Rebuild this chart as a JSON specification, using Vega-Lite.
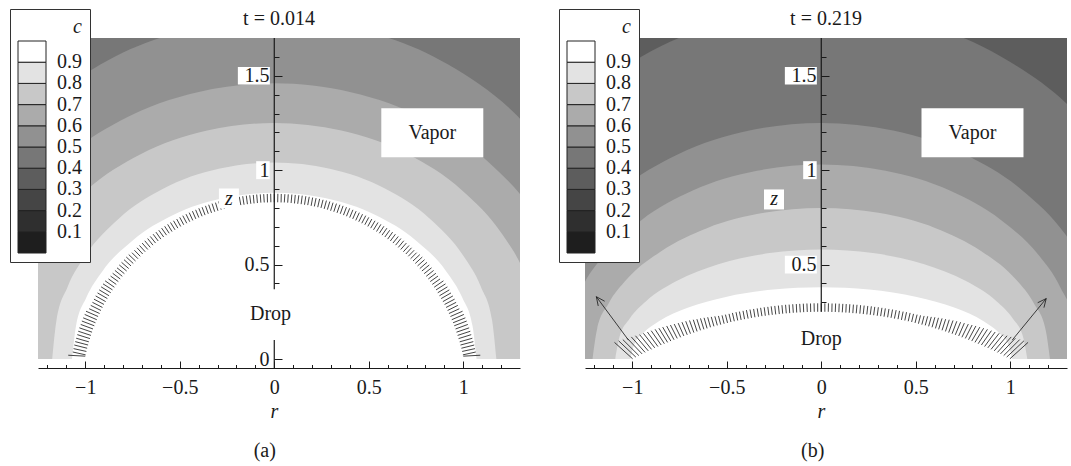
{
  "$schema": "https://vega.github.io/schema/vega-lite/v6.json",
  "background": "white",
  "padding": {"left": 9, "top": 8, "right": 4, "bottom": 4},
  "config": {
    "font": "Liberation Serif",
    "view": {"stroke": null},
    "axis": {"labelFont": "Liberation Serif", "labelFontSize": 20, "labelColor": "#1a1a1a", "domainColor": "#1a1a1a", "tickColor": "#1a1a1a", "grid": false, "titleFont": "Liberation Serif", "titleFontSize": 20, "titleFontStyle": "italic", "titleFontWeight": "normal", "titleColor": "#1a1a1a"},
    "title": {"font": "Liberation Serif", "fontSize": 20, "fontWeight": "normal", "color": "#1a1a1a"}
  },
  "datasets": {
    "bandsA": [
      {"band": "b0", "c": 0.45, "r": -1.4, "z": 1.8}, {"band": "b0", "c": 0.45, "r": 1.4, "z": 1.8},
      {"band": "b1", "c": 0.55, "r": -1.84, "z": 0}, {"band": "b1", "c": 0.55, "r": -1.803, "z": 0.358}, {"band": "b1", "c": 0.55, "r": -1.711, "z": 0.662}, {"band": "b1", "c": 0.55, "r": -1.564, "z": 0.949}, {"band": "b1", "c": 0.55, "r": -1.288, "z": 1.285}, {"band": "b1", "c": 0.55, "r": -0.92, "z": 1.559}, {"band": "b1", "c": 0.55, "r": -0.46, "z": 1.742}, {"band": "b1", "c": 0.55, "r": 0, "z": 1.8}, {"band": "b1", "c": 0.55, "r": 0.46, "z": 1.742}, {"band": "b1", "c": 0.55, "r": 0.92, "z": 1.559}, {"band": "b1", "c": 0.55, "r": 1.288, "z": 1.285}, {"band": "b1", "c": 0.55, "r": 1.564, "z": 0.949}, {"band": "b1", "c": 0.55, "r": 1.711, "z": 0.662}, {"band": "b1", "c": 0.55, "r": 1.803, "z": 0.358}, {"band": "b1", "c": 0.55, "r": 1.84, "z": 0},
      {"band": "b2", "c": 0.65, "r": -1.62, "z": 0}, {"band": "b2", "c": 0.65, "r": -1.588, "z": 0.291}, {"band": "b2", "c": 0.65, "r": -1.507, "z": 0.537}, {"band": "b2", "c": 0.65, "r": -1.377, "z": 0.769}, {"band": "b2", "c": 0.65, "r": -1.134, "z": 1.042}, {"band": "b2", "c": 0.65, "r": -0.81, "z": 1.264}, {"band": "b2", "c": 0.65, "r": -0.405, "z": 1.413}, {"band": "b2", "c": 0.65, "r": 0, "z": 1.46}, {"band": "b2", "c": 0.65, "r": 0.405, "z": 1.413}, {"band": "b2", "c": 0.65, "r": 0.81, "z": 1.264}, {"band": "b2", "c": 0.65, "r": 1.134, "z": 1.042}, {"band": "b2", "c": 0.65, "r": 1.377, "z": 0.769}, {"band": "b2", "c": 0.65, "r": 1.507, "z": 0.537}, {"band": "b2", "c": 0.65, "r": 1.588, "z": 0.291}, {"band": "b2", "c": 0.65, "r": 1.62, "z": 0},
      {"band": "b3", "c": 0.75, "r": -1.42, "z": 0}, {"band": "b3", "c": 0.75, "r": -1.392, "z": 0.249}, {"band": "b3", "c": 0.75, "r": -1.321, "z": 0.46}, {"band": "b3", "c": 0.75, "r": -1.207, "z": 0.659}, {"band": "b3", "c": 0.75, "r": -0.994, "z": 0.893}, {"band": "b3", "c": 0.75, "r": -0.71, "z": 1.083}, {"band": "b3", "c": 0.75, "r": -0.355, "z": 1.21}, {"band": "b3", "c": 0.75, "r": 0, "z": 1.25}, {"band": "b3", "c": 0.75, "r": 0.355, "z": 1.21}, {"band": "b3", "c": 0.75, "r": 0.71, "z": 1.083}, {"band": "b3", "c": 0.75, "r": 0.994, "z": 0.893}, {"band": "b3", "c": 0.75, "r": 1.207, "z": 0.659}, {"band": "b3", "c": 0.75, "r": 1.321, "z": 0.46}, {"band": "b3", "c": 0.75, "r": 1.392, "z": 0.249}, {"band": "b3", "c": 0.75, "r": 1.42, "z": 0},
      {"band": "b4", "c": 0.85, "r": -1.175, "z": 0}, {"band": "b4", "c": 0.85, "r": -1.152, "z": 0.207}, {"band": "b4", "c": 0.85, "r": -1.093, "z": 0.383}, {"band": "b4", "c": 0.85, "r": -0.999, "z": 0.548}, {"band": "b4", "c": 0.85, "r": -0.823, "z": 0.743}, {"band": "b4", "c": 0.85, "r": -0.588, "z": 0.901}, {"band": "b4", "c": 0.85, "r": -0.294, "z": 1.007}, {"band": "b4", "c": 0.85, "r": 0, "z": 1.04}, {"band": "b4", "c": 0.85, "r": 0.294, "z": 1.007}, {"band": "b4", "c": 0.85, "r": 0.588, "z": 0.901}, {"band": "b4", "c": 0.85, "r": 0.823, "z": 0.743}, {"band": "b4", "c": 0.85, "r": 0.999, "z": 0.548}, {"band": "b4", "c": 0.85, "r": 1.093, "z": 0.383}, {"band": "b4", "c": 0.85, "r": 1.152, "z": 0.207}, {"band": "b4", "c": 0.85, "r": 1.175, "z": 0},
      {"band": "b5", "c": 0.95, "r": -1.07, "z": 0}, {"band": "b5", "c": 0.95, "r": -1.049, "z": 0.175}, {"band": "b5", "c": 0.95, "r": -0.995, "z": 0.324}, {"band": "b5", "c": 0.95, "r": -0.91, "z": 0.464}, {"band": "b5", "c": 0.95, "r": -0.749, "z": 0.628}, {"band": "b5", "c": 0.95, "r": -0.535, "z": 0.762}, {"band": "b5", "c": 0.95, "r": -0.268, "z": 0.852}, {"band": "b5", "c": 0.95, "r": 0, "z": 0.88}, {"band": "b5", "c": 0.95, "r": 0.268, "z": 0.852}, {"band": "b5", "c": 0.95, "r": 0.535, "z": 0.762}, {"band": "b5", "c": 0.95, "r": 0.749, "z": 0.628}, {"band": "b5", "c": 0.95, "r": 0.91, "z": 0.464}, {"band": "b5", "c": 0.95, "r": 0.995, "z": 0.324}, {"band": "b5", "c": 0.95, "r": 1.049, "z": 0.175}, {"band": "b5", "c": 0.95, "r": 1.07, "z": 0}
    ],
    "bandsB": [
      {"band": "b0", "c": 0.35, "r": -1.4, "z": 1.8}, {"band": "b0", "c": 0.35, "r": 1.4, "z": 1.8},
      {"band": "b1", "c": 0.45, "r": -1.9, "z": 0}, {"band": "b1", "c": 0.45, "r": -1.862, "z": 0.368}, {"band": "b1", "c": 0.45, "r": -1.767, "z": 0.681}, {"band": "b1", "c": 0.45, "r": -1.615, "z": 0.975}, {"band": "b1", "c": 0.45, "r": -1.33, "z": 1.321}, {"band": "b1", "c": 0.45, "r": -0.95, "z": 1.602}, {"band": "b1", "c": 0.45, "r": -0.475, "z": 1.791}, {"band": "b1", "c": 0.45, "r": 0, "z": 1.85}, {"band": "b1", "c": 0.45, "r": 0.475, "z": 1.791}, {"band": "b1", "c": 0.45, "r": 0.95, "z": 1.602}, {"band": "b1", "c": 0.45, "r": 1.33, "z": 1.321}, {"band": "b1", "c": 0.45, "r": 1.615, "z": 0.975}, {"band": "b1", "c": 0.45, "r": 1.767, "z": 0.681}, {"band": "b1", "c": 0.45, "r": 1.862, "z": 0.368}, {"band": "b1", "c": 0.45, "r": 1.9, "z": 0},
      {"band": "b2", "c": 0.55, "r": -1.52, "z": 0}, {"band": "b2", "c": 0.55, "r": -1.49, "z": 0.249}, {"band": "b2", "c": 0.55, "r": -1.414, "z": 0.46}, {"band": "b2", "c": 0.55, "r": -1.292, "z": 0.659}, {"band": "b2", "c": 0.55, "r": -1.064, "z": 0.893}, {"band": "b2", "c": 0.55, "r": -0.76, "z": 1.083}, {"band": "b2", "c": 0.55, "r": -0.38, "z": 1.21}, {"band": "b2", "c": 0.55, "r": 0, "z": 1.25}, {"band": "b2", "c": 0.55, "r": 0.38, "z": 1.21}, {"band": "b2", "c": 0.55, "r": 0.76, "z": 1.083}, {"band": "b2", "c": 0.55, "r": 1.064, "z": 0.893}, {"band": "b2", "c": 0.55, "r": 1.292, "z": 0.659}, {"band": "b2", "c": 0.55, "r": 1.414, "z": 0.46}, {"band": "b2", "c": 0.55, "r": 1.49, "z": 0.249}, {"band": "b2", "c": 0.55, "r": 1.52, "z": 0},
      {"band": "b3", "c": 0.65, "r": -1.36, "z": 0}, {"band": "b3", "c": 0.65, "r": -1.333, "z": 0.205}, {"band": "b3", "c": 0.65, "r": -1.265, "z": 0.379}, {"band": "b3", "c": 0.65, "r": -1.156, "z": 0.543}, {"band": "b3", "c": 0.65, "r": -0.952, "z": 0.735}, {"band": "b3", "c": 0.65, "r": -0.68, "z": 0.892}, {"band": "b3", "c": 0.65, "r": -0.34, "z": 0.997}, {"band": "b3", "c": 0.65, "r": 0, "z": 1.03}, {"band": "b3", "c": 0.65, "r": 0.34, "z": 0.997}, {"band": "b3", "c": 0.65, "r": 0.68, "z": 0.892}, {"band": "b3", "c": 0.65, "r": 0.952, "z": 0.735}, {"band": "b3", "c": 0.65, "r": 1.156, "z": 0.543}, {"band": "b3", "c": 0.65, "r": 1.265, "z": 0.379}, {"band": "b3", "c": 0.65, "r": 1.333, "z": 0.205}, {"band": "b3", "c": 0.65, "r": 1.36, "z": 0},
      {"band": "b4", "c": 0.75, "r": -1.21, "z": 0}, {"band": "b4", "c": 0.75, "r": -1.186, "z": 0.159}, {"band": "b4", "c": 0.75, "r": -1.125, "z": 0.294}, {"band": "b4", "c": 0.75, "r": -1.029, "z": 0.422}, {"band": "b4", "c": 0.75, "r": -0.847, "z": 0.571}, {"band": "b4", "c": 0.75, "r": -0.605, "z": 0.693}, {"band": "b4", "c": 0.75, "r": -0.303, "z": 0.774}, {"band": "b4", "c": 0.75, "r": 0, "z": 0.8}, {"band": "b4", "c": 0.75, "r": 0.303, "z": 0.774}, {"band": "b4", "c": 0.75, "r": 0.605, "z": 0.693}, {"band": "b4", "c": 0.75, "r": 0.847, "z": 0.571}, {"band": "b4", "c": 0.75, "r": 1.029, "z": 0.422}, {"band": "b4", "c": 0.75, "r": 1.125, "z": 0.294}, {"band": "b4", "c": 0.75, "r": 1.186, "z": 0.159}, {"band": "b4", "c": 0.75, "r": 1.21, "z": 0},
      {"band": "b5", "c": 0.85, "r": -1.09, "z": 0}, {"band": "b5", "c": 0.85, "r": -1.068, "z": 0.115}, {"band": "b5", "c": 0.85, "r": -1.014, "z": 0.213}, {"band": "b5", "c": 0.85, "r": -0.927, "z": 0.306}, {"band": "b5", "c": 0.85, "r": -0.763, "z": 0.414}, {"band": "b5", "c": 0.85, "r": -0.545, "z": 0.502}, {"band": "b5", "c": 0.85, "r": -0.273, "z": 0.561}, {"band": "b5", "c": 0.85, "r": 0, "z": 0.58}, {"band": "b5", "c": 0.85, "r": 0.273, "z": 0.561}, {"band": "b5", "c": 0.85, "r": 0.545, "z": 0.502}, {"band": "b5", "c": 0.85, "r": 0.763, "z": 0.414}, {"band": "b5", "c": 0.85, "r": 0.927, "z": 0.306}, {"band": "b5", "c": 0.85, "r": 1.014, "z": 0.213}, {"band": "b5", "c": 0.85, "r": 1.068, "z": 0.115}, {"band": "b5", "c": 0.85, "r": 1.09, "z": 0},
      {"band": "b6", "c": 0.95, "r": -1.01, "z": 0}, {"band": "b6", "c": 0.95, "r": -0.99, "z": 0.076}, {"band": "b6", "c": 0.95, "r": -0.939, "z": 0.14}, {"band": "b6", "c": 0.95, "r": -0.859, "z": 0.2}, {"band": "b6", "c": 0.95, "r": -0.707, "z": 0.271}, {"band": "b6", "c": 0.95, "r": -0.505, "z": 0.329}, {"band": "b6", "c": 0.95, "r": -0.253, "z": 0.368}, {"band": "b6", "c": 0.95, "r": 0, "z": 0.38}, {"band": "b6", "c": 0.95, "r": 0.253, "z": 0.368}, {"band": "b6", "c": 0.95, "r": 0.505, "z": 0.329}, {"band": "b6", "c": 0.95, "r": 0.707, "z": 0.271}, {"band": "b6", "c": 0.95, "r": 0.859, "z": 0.2}, {"band": "b6", "c": 0.95, "r": 0.939, "z": 0.14}, {"band": "b6", "c": 0.95, "r": 0.99, "z": 0.076}, {"band": "b6", "c": 0.95, "r": 1.01, "z": 0}
    ],
    "arrowsA": [
      {"r": -1.0, "z": 0.015, "r2": -1.09, "z2": 0.02},
      {"r": -0.998, "z": 0.022, "r2": -1.066, "z2": 0.037}, {"r": -0.994, "z": 0.040, "r2": -1.062, "z2": 0.055}, {"r": -0.990, "z": 0.057, "r2": -1.058, "z2": 0.074}, {"r": -0.985, "z": 0.074, "r2": -1.053, "z2": 0.092}, {"r": -0.981, "z": 0.091, "r2": -1.048, "z2": 0.110}, {"r": -0.975, "z": 0.108, "r2": -1.042, "z2": 0.129}, {"r": -0.970, "z": 0.125, "r2": -1.037, "z2": 0.147}, {"r": -0.964, "z": 0.142, "r2": -1.031, "z2": 0.165}, {"r": -0.959, "z": 0.159, "r2": -1.024, "z2": 0.183}, {"r": -0.952, "z": 0.176, "r2": -1.018, "z2": 0.201}, {"r": -0.946, "z": 0.192, "r2": -1.011, "z2": 0.218}, {"r": -0.939, "z": 0.208, "r2": -1.003, "z2": 0.236}, {"r": -0.932, "z": 0.225, "r2": -0.996, "z2": 0.253},
      {"r": -0.924, "z": 0.241, "r2": -0.979, "z2": 0.266}, {"r": -0.917, "z": 0.257, "r2": -0.971, "z2": 0.284}, {"r": -0.909, "z": 0.273, "r2": -0.962, "z2": 0.300}, {"r": -0.901, "z": 0.289, "r2": -0.954, "z2": 0.317}, {"r": -0.892, "z": 0.304, "r2": -0.945, "z2": 0.334}, {"r": -0.883, "z": 0.320, "r2": -0.935, "z2": 0.350}, {"r": -0.874, "z": 0.335, "r2": -0.926, "z2": 0.366}, {"r": -0.865, "z": 0.351, "r2": -0.916, "z2": 0.382}, {"r": -0.856, "z": 0.366, "r2": -0.906, "z2": 0.398}, {"r": -0.846, "z": 0.380, "r2": -0.895, "z2": 0.414},
      {"r": -0.836, "z": 0.395, "r2": -0.877, "z2": 0.424}, {"r": -0.825, "z": 0.410, "r2": -0.866, "z2": 0.439}, {"r": -0.815, "z": 0.424, "r2": -0.855, "z2": 0.454}, {"r": -0.804, "z": 0.438, "r2": -0.843, "z2": 0.469}, {"r": -0.793, "z": 0.452, "r2": -0.832, "z2": 0.483}, {"r": -0.781, "z": 0.466, "r2": -0.820, "z2": 0.498}, {"r": -0.770, "z": 0.479, "r2": -0.808, "z2": 0.512}, {"r": -0.758, "z": 0.493, "r2": -0.795, "z2": 0.526}, {"r": -0.746, "z": 0.506, "r2": -0.783, "z2": 0.540}, {"r": -0.734, "z": 0.519, "r2": -0.770, "z2": 0.553},
      {"r": -0.721, "z": 0.531, "r2": -0.753, "z2": 0.563}, {"r": -0.709, "z": 0.544, "r2": -0.740, "z2": 0.576}, {"r": -0.696, "z": 0.556, "r2": -0.726, "z2": 0.589}, {"r": -0.683, "z": 0.568, "r2": -0.713, "z2": 0.601}, {"r": -0.669, "z": 0.580, "r2": -0.699, "z2": 0.614}, {"r": -0.656, "z": 0.591, "r2": -0.685, "z2": 0.626}, {"r": -0.642, "z": 0.603, "r2": -0.670, "z2": 0.638}, {"r": -0.628, "z": 0.614, "r2": -0.656, "z2": 0.649}, {"r": -0.614, "z": 0.625, "r2": -0.641, "z2": 0.661}, {"r": -0.600, "z": 0.635, "r2": -0.626, "z2": 0.672},
      {"r": -0.585, "z": 0.646, "r2": -0.611, "z2": 0.682}, {"r": -0.570, "z": 0.656, "r2": -0.596, "z2": 0.693}, {"r": -0.556, "z": 0.666, "r2": -0.580, "z2": 0.703}, {"r": -0.541, "z": 0.675, "r2": -0.564, "z2": 0.713}, {"r": -0.525, "z": 0.684, "r2": -0.549, "z2": 0.723}, {"r": -0.510, "z": 0.693, "r2": -0.533, "z2": 0.732}, {"r": -0.495, "z": 0.702, "r2": -0.516, "z2": 0.741}, {"r": -0.479, "z": 0.711, "r2": -0.500, "z2": 0.750}, {"r": -0.463, "z": 0.719, "r2": -0.484, "z2": 0.759}, {"r": -0.447, "z": 0.727, "r2": -0.467, "z2": 0.767},
      {"r": -0.431, "z": 0.734, "r2": -0.450, "z2": 0.775}, {"r": -0.415, "z": 0.742, "r2": -0.433, "z2": 0.783}, {"r": -0.399, "z": 0.749, "r2": -0.416, "z2": 0.790}, {"r": -0.382, "z": 0.756, "r2": -0.399, "z2": 0.798}, {"r": -0.366, "z": 0.762, "r2": -0.382, "z2": 0.804}, {"r": -0.349, "z": 0.769, "r2": -0.364, "z2": 0.811}, {"r": -0.332, "z": 0.774, "r2": -0.347, "z2": 0.817}, {"r": -0.315, "z": 0.780, "r2": -0.329, "z2": 0.823}, {"r": -0.298, "z": 0.785, "r2": -0.311, "z2": 0.828}, {"r": -0.281, "z": 0.791, "r2": -0.294, "z2": 0.834},
      {"r": -0.264, "z": 0.795, "r2": -0.276, "z2": 0.839}, {"r": -0.247, "z": 0.800, "r2": -0.258, "z2": 0.843}, {"r": -0.230, "z": 0.804, "r2": -0.240, "z2": 0.848}, {"r": -0.212, "z": 0.808, "r2": -0.221, "z2": 0.852}, {"r": -0.195, "z": 0.811, "r2": -0.203, "z2": 0.855}, {"r": -0.177, "z": 0.815, "r2": -0.185, "z2": 0.859}, {"r": -0.160, "z": 0.817, "r2": -0.167, "z2": 0.862}, {"r": -0.142, "z": 0.820, "r2": -0.148, "z2": 0.865}, {"r": -0.124, "z": 0.822, "r2": -0.130, "z2": 0.867}, {"r": -0.107, "z": 0.824, "r2": -0.111, "z2": 0.869},
      {"r": -0.089, "z": 0.826, "r2": -0.093, "z2": 0.871}, {"r": -0.071, "z": 0.828, "r2": -0.074, "z2": 0.872}, {"r": -0.053, "z": 0.829, "r2": -0.056, "z2": 0.873}, {"r": -0.036, "z": 0.829, "r2": -0.037, "z2": 0.874}, {"r": -0.018, "z": 0.830, "r2": -0.019, "z2": 0.875},
      {"r": 0, "z": 0.830, "r2": 0, "z2": 0.875},
      {"r": 0.018, "z": 0.830, "r2": 0.019, "z2": 0.875}, {"r": 0.036, "z": 0.829, "r2": 0.037, "z2": 0.874}, {"r": 0.053, "z": 0.829, "r2": 0.056, "z2": 0.873}, {"r": 0.071, "z": 0.828, "r2": 0.074, "z2": 0.872}, {"r": 0.089, "z": 0.826, "r2": 0.093, "z2": 0.871},
      {"r": 0.107, "z": 0.824, "r2": 0.111, "z2": 0.869}, {"r": 0.124, "z": 0.822, "r2": 0.130, "z2": 0.867}, {"r": 0.142, "z": 0.820, "r2": 0.148, "z2": 0.865}, {"r": 0.160, "z": 0.817, "r2": 0.167, "z2": 0.862}, {"r": 0.177, "z": 0.815, "r2": 0.185, "z2": 0.859}, {"r": 0.195, "z": 0.811, "r2": 0.203, "z2": 0.855}, {"r": 0.212, "z": 0.808, "r2": 0.221, "z2": 0.852}, {"r": 0.230, "z": 0.804, "r2": 0.240, "z2": 0.848}, {"r": 0.247, "z": 0.800, "r2": 0.258, "z2": 0.843}, {"r": 0.264, "z": 0.795, "r2": 0.276, "z2": 0.839},
      {"r": 0.281, "z": 0.791, "r2": 0.294, "z2": 0.834}, {"r": 0.298, "z": 0.785, "r2": 0.311, "z2": 0.828}, {"r": 0.315, "z": 0.780, "r2": 0.329, "z2": 0.823}, {"r": 0.332, "z": 0.774, "r2": 0.347, "z2": 0.817}, {"r": 0.349, "z": 0.769, "r2": 0.364, "z2": 0.811}, {"r": 0.366, "z": 0.762, "r2": 0.382, "z2": 0.804}, {"r": 0.382, "z": 0.756, "r2": 0.399, "z2": 0.798}, {"r": 0.399, "z": 0.749, "r2": 0.416, "z2": 0.790}, {"r": 0.415, "z": 0.742, "r2": 0.433, "z2": 0.783}, {"r": 0.431, "z": 0.734, "r2": 0.450, "z2": 0.775},
      {"r": 0.447, "z": 0.727, "r2": 0.467, "z2": 0.767}, {"r": 0.463, "z": 0.719, "r2": 0.484, "z2": 0.759}, {"r": 0.479, "z": 0.711, "r2": 0.500, "z2": 0.750}, {"r": 0.495, "z": 0.702, "r2": 0.516, "z2": 0.741}, {"r": 0.510, "z": 0.693, "r2": 0.533, "z2": 0.732}, {"r": 0.525, "z": 0.684, "r2": 0.549, "z2": 0.723}, {"r": 0.541, "z": 0.675, "r2": 0.564, "z2": 0.713}, {"r": 0.556, "z": 0.666, "r2": 0.580, "z2": 0.703}, {"r": 0.570, "z": 0.656, "r2": 0.596, "z2": 0.693}, {"r": 0.585, "z": 0.646, "r2": 0.611, "z2": 0.682},
      {"r": 0.600, "z": 0.635, "r2": 0.626, "z2": 0.672}, {"r": 0.614, "z": 0.625, "r2": 0.641, "z2": 0.661}, {"r": 0.628, "z": 0.614, "r2": 0.656, "z2": 0.649}, {"r": 0.642, "z": 0.603, "r2": 0.670, "z2": 0.638}, {"r": 0.656, "z": 0.591, "r2": 0.685, "z2": 0.626}, {"r": 0.669, "z": 0.580, "r2": 0.699, "z2": 0.614}, {"r": 0.683, "z": 0.568, "r2": 0.713, "z2": 0.601}, {"r": 0.696, "z": 0.556, "r2": 0.726, "z2": 0.589}, {"r": 0.709, "z": 0.544, "r2": 0.740, "z2": 0.576}, {"r": 0.721, "z": 0.531, "r2": 0.753, "z2": 0.563},
      {"r": 0.734, "z": 0.519, "r2": 0.770, "z2": 0.553}, {"r": 0.746, "z": 0.506, "r2": 0.783, "z2": 0.540}, {"r": 0.758, "z": 0.493, "r2": 0.795, "z2": 0.526}, {"r": 0.770, "z": 0.479, "r2": 0.808, "z2": 0.512}, {"r": 0.781, "z": 0.466, "r2": 0.820, "z2": 0.498}, {"r": 0.793, "z": 0.452, "r2": 0.832, "z2": 0.483}, {"r": 0.804, "z": 0.438, "r2": 0.843, "z2": 0.469}, {"r": 0.815, "z": 0.424, "r2": 0.855, "z2": 0.454}, {"r": 0.825, "z": 0.410, "r2": 0.866, "z2": 0.439}, {"r": 0.836, "z": 0.395, "r2": 0.877, "z2": 0.424},
      {"r": 0.846, "z": 0.380, "r2": 0.895, "z2": 0.414}, {"r": 0.856, "z": 0.366, "r2": 0.906, "z2": 0.398}, {"r": 0.865, "z": 0.351, "r2": 0.916, "z2": 0.382}, {"r": 0.874, "z": 0.335, "r2": 0.926, "z2": 0.366}, {"r": 0.883, "z": 0.320, "r2": 0.935, "z2": 0.350}, {"r": 0.892, "z": 0.304, "r2": 0.945, "z2": 0.334}, {"r": 0.901, "z": 0.289, "r2": 0.954, "z2": 0.317}, {"r": 0.909, "z": 0.273, "r2": 0.962, "z2": 0.300}, {"r": 0.917, "z": 0.257, "r2": 0.971, "z2": 0.284}, {"r": 0.924, "z": 0.241, "r2": 0.979, "z2": 0.266},
      {"r": 0.932, "z": 0.225, "r2": 0.996, "z2": 0.253}, {"r": 0.939, "z": 0.208, "r2": 1.003, "z2": 0.236}, {"r": 0.946, "z": 0.192, "r2": 1.011, "z2": 0.218}, {"r": 0.952, "z": 0.176, "r2": 1.018, "z2": 0.201}, {"r": 0.959, "z": 0.159, "r2": 1.024, "z2": 0.183}, {"r": 0.964, "z": 0.142, "r2": 1.031, "z2": 0.165}, {"r": 0.970, "z": 0.125, "r2": 1.037, "z2": 0.147}, {"r": 0.975, "z": 0.108, "r2": 1.042, "z2": 0.129}, {"r": 0.981, "z": 0.091, "r2": 1.048, "z2": 0.110}, {"r": 0.985, "z": 0.074, "r2": 1.053, "z2": 0.092},
      {"r": 0.990, "z": 0.057, "r2": 1.058, "z2": 0.074}, {"r": 0.994, "z": 0.040, "r2": 1.062, "z2": 0.055}, {"r": 0.998, "z": 0.022, "r2": 1.066, "z2": 0.037},
      {"r": 1.0, "z": 0.015, "r2": 1.09, "z2": 0.02}
    ],
    "arrowsB": [
      {"r": -1.02, "z": 0.10, "r2": -1.19, "z2": 0.33}, {"r": -1.19, "z": 0.33, "r2": -1.146, "z2": 0.306}, {"r": -1.19, "z": 0.33, "r2": -1.18, "z2": 0.281},
      {"r": -0.998, "z": 0.001, "r2": -1.094, "z2": 0.088}, {"r": -0.981, "z": 0.010, "r2": -1.072, "z2": 0.096}, {"r": -0.965, "z": 0.018, "r2": -1.050, "z2": 0.103}, {"r": -0.948, "z": 0.027, "r2": -1.027, "z2": 0.110}, {"r": -0.932, "z": 0.035, "r2": -1.005, "z2": 0.117}, {"r": -0.915, "z": 0.043, "r2": -0.983, "z2": 0.123}, {"r": -0.898, "z": 0.051, "r2": -0.961, "z2": 0.129}, {"r": -0.881, "z": 0.059, "r2": -0.941, "z2": 0.136}, {"r": -0.864, "z": 0.066, "r2": -0.920, "z2": 0.143}, {"r": -0.847, "z": 0.074, "r2": -0.900, "z2": 0.150}, {"r": -0.830, "z": 0.081, "r2": -0.879, "z2": 0.157}, {"r": -0.813, "z": 0.088, "r2": -0.859, "z2": 0.163}, {"r": -0.796, "z": 0.095, "r2": -0.839, "z2": 0.169}, {"r": -0.779, "z": 0.102, "r2": -0.818, "z2": 0.175}, {"r": -0.762, "z": 0.109, "r2": -0.798, "z2": 0.180}, {"r": -0.744, "z": 0.115, "r2": -0.778, "z2": 0.185}, {"r": -0.727, "z": 0.122, "r2": -0.757, "z2": 0.190}, {"r": -0.709, "z": 0.128, "r2": -0.737, "z2": 0.195}, {"r": -0.692, "z": 0.134, "r2": -0.717, "z2": 0.200}, {"r": -0.674, "z": 0.140, "r2": -0.697, "z2": 0.204}, {"r": -0.657, "z": 0.146, "r2": -0.677, "z2": 0.208}, {"r": -0.639, "z": 0.152, "r2": -0.658, "z2": 0.211}, {"r": -0.621, "z": 0.157, "r2": -0.639, "z2": 0.215}, {"r": -0.604, "z": 0.162, "r2": -0.620, "z2": 0.218}, {"r": -0.586, "z": 0.168, "r2": -0.601, "z2": 0.221}, {"r": -0.568, "z": 0.173, "r2": -0.582, "z2": 0.223}, {"r": -0.550, "z": 0.178, "r2": -0.563, "z2": 0.226}, {"r": -0.532, "z": 0.182, "r2": -0.544, "z2": 0.228}, {"r": -0.514, "z": 0.187, "r2": -0.525, "z2": 0.231}, {"r": -0.496, "z": 0.191, "r2": -0.507, "z2": 0.235}, {"r": -0.478, "z": 0.196, "r2": -0.488, "z2": 0.239}, {"r": -0.460, "z": 0.200, "r2": -0.470, "z2": 0.244}, {"r": -0.442, "z": 0.204, "r2": -0.451, "z2": 0.248}, {"r": -0.424, "z": 0.207, "r2": -0.433, "z2": 0.251}, {"r": -0.406, "z": 0.211, "r2": -0.414, "z2": 0.255}, {"r": -0.387, "z": 0.214, "r2": -0.396, "z2": 0.259}, {"r": -0.369, "z": 0.218, "r2": -0.377, "z2": 0.262}, {"r": -0.351, "z": 0.221, "r2": -0.358, "z2": 0.265}, {"r": -0.332, "z": 0.224, "r2": -0.339, "z2": 0.268}, {"r": -0.314, "z": 0.227, "r2": -0.321, "z2": 0.271}, {"r": -0.296, "z": 0.229, "r2": -0.302, "z2": 0.274}, {"r": -0.277, "z": 0.232, "r2": -0.283, "z2": 0.276}, {"r": -0.259, "z": 0.234, "r2": -0.265, "z2": 0.279}, {"r": -0.241, "z": 0.236, "r2": -0.246, "z2": 0.281}, {"r": -0.222, "z": 0.238, "r2": -0.227, "z2": 0.283}, {"r": -0.204, "z": 0.240, "r2": -0.208, "z2": 0.285}, {"r": -0.185, "z": 0.242, "r2": -0.189, "z2": 0.287}, {"r": -0.167, "z": 0.243, "r2": -0.170, "z2": 0.288}, {"r": -0.148, "z": 0.245, "r2": -0.151, "z2": 0.290}, {"r": -0.130, "z": 0.246, "r2": -0.132, "z2": 0.291}, {"r": -0.111, "z": 0.247, "r2": -0.114, "z2": 0.292}, {"r": -0.093, "z": 0.248, "r2": -0.095, "z2": 0.293}, {"r": -0.074, "z": 0.249, "r2": -0.076, "z2": 0.294}, {"r": -0.056, "z": 0.249, "r2": -0.057, "z2": 0.294}, {"r": -0.037, "z": 0.250, "r2": -0.038, "z2": 0.295}, {"r": -0.019, "z": 0.250, "r2": -0.019, "z2": 0.295},
      {"r": 0, "z": 0.250, "r2": 0, "z2": 0.295},
      {"r": 0.019, "z": 0.250, "r2": 0.019, "z2": 0.295}, {"r": 0.037, "z": 0.250, "r2": 0.038, "z2": 0.295}, {"r": 0.056, "z": 0.249, "r2": 0.057, "z2": 0.294}, {"r": 0.074, "z": 0.249, "r2": 0.076, "z2": 0.294}, {"r": 0.093, "z": 0.248, "r2": 0.095, "z2": 0.293}, {"r": 0.111, "z": 0.247, "r2": 0.114, "z2": 0.292}, {"r": 0.130, "z": 0.246, "r2": 0.132, "z2": 0.291}, {"r": 0.148, "z": 0.245, "r2": 0.151, "z2": 0.290}, {"r": 0.167, "z": 0.243, "r2": 0.170, "z2": 0.288}, {"r": 0.185, "z": 0.242, "r2": 0.189, "z2": 0.287}, {"r": 0.204, "z": 0.240, "r2": 0.208, "z2": 0.285}, {"r": 0.222, "z": 0.238, "r2": 0.227, "z2": 0.283}, {"r": 0.241, "z": 0.236, "r2": 0.246, "z2": 0.281}, {"r": 0.259, "z": 0.234, "r2": 0.265, "z2": 0.279}, {"r": 0.277, "z": 0.232, "r2": 0.283, "z2": 0.276}, {"r": 0.296, "z": 0.229, "r2": 0.302, "z2": 0.274}, {"r": 0.314, "z": 0.227, "r2": 0.321, "z2": 0.271}, {"r": 0.332, "z": 0.224, "r2": 0.339, "z2": 0.268}, {"r": 0.351, "z": 0.221, "r2": 0.358, "z2": 0.265}, {"r": 0.369, "z": 0.218, "r2": 0.377, "z2": 0.262}, {"r": 0.387, "z": 0.214, "r2": 0.396, "z2": 0.259}, {"r": 0.406, "z": 0.211, "r2": 0.414, "z2": 0.255}, {"r": 0.424, "z": 0.207, "r2": 0.433, "z2": 0.251}, {"r": 0.442, "z": 0.204, "r2": 0.451, "z2": 0.248}, {"r": 0.460, "z": 0.200, "r2": 0.470, "z2": 0.244}, {"r": 0.478, "z": 0.196, "r2": 0.488, "z2": 0.239}, {"r": 0.496, "z": 0.191, "r2": 0.507, "z2": 0.235}, {"r": 0.514, "z": 0.187, "r2": 0.525, "z2": 0.231}, {"r": 0.532, "z": 0.182, "r2": 0.544, "z2": 0.228}, {"r": 0.550, "z": 0.178, "r2": 0.563, "z2": 0.226}, {"r": 0.568, "z": 0.173, "r2": 0.582, "z2": 0.223}, {"r": 0.586, "z": 0.168, "r2": 0.601, "z2": 0.221}, {"r": 0.604, "z": 0.162, "r2": 0.620, "z2": 0.218}, {"r": 0.621, "z": 0.157, "r2": 0.639, "z2": 0.215}, {"r": 0.639, "z": 0.152, "r2": 0.658, "z2": 0.211}, {"r": 0.657, "z": 0.146, "r2": 0.677, "z2": 0.208}, {"r": 0.674, "z": 0.140, "r2": 0.697, "z2": 0.204}, {"r": 0.692, "z": 0.134, "r2": 0.717, "z2": 0.200}, {"r": 0.709, "z": 0.128, "r2": 0.737, "z2": 0.195}, {"r": 0.727, "z": 0.122, "r2": 0.757, "z2": 0.190}, {"r": 0.744, "z": 0.115, "r2": 0.778, "z2": 0.185}, {"r": 0.762, "z": 0.109, "r2": 0.798, "z2": 0.180}, {"r": 0.779, "z": 0.102, "r2": 0.818, "z2": 0.175}, {"r": 0.796, "z": 0.095, "r2": 0.839, "z2": 0.169}, {"r": 0.813, "z": 0.088, "r2": 0.859, "z2": 0.163}, {"r": 0.830, "z": 0.081, "r2": 0.879, "z2": 0.157}, {"r": 0.847, "z": 0.074, "r2": 0.900, "z2": 0.150}, {"r": 0.864, "z": 0.066, "r2": 0.920, "z2": 0.143}, {"r": 0.881, "z": 0.059, "r2": 0.941, "z2": 0.136}, {"r": 0.898, "z": 0.051, "r2": 0.961, "z2": 0.129}, {"r": 0.915, "z": 0.043, "r2": 0.983, "z2": 0.123}, {"r": 0.932, "z": 0.035, "r2": 1.005, "z2": 0.117}, {"r": 0.948, "z": 0.027, "r2": 1.027, "z2": 0.110}, {"r": 0.965, "z": 0.018, "r2": 1.050, "z2": 0.103}, {"r": 0.981, "z": 0.010, "r2": 1.072, "z2": 0.096}, {"r": 0.998, "z": 0.001, "r2": 1.094, "z2": 0.088},
      {"r": 1.01, "z": 0.10, "r2": 1.19, "z2": 0.32}, {"r": 1.19, "z": 0.32, "r2": 1.178, "z2": 0.272}, {"r": 1.19, "z": 0.32, "r2": 1.145, "z2": 0.298}
    ],
    "zlineA": [{"z": 0.37, "z2": 1.7}, {"z": -0.048, "z2": 0.1}],
    "zlineB": [{"z": 0.25, "z2": 1.7}],
    "zticks": [{"z": 0.5}, {"z": 1}, {"z": 1.5}],
    "labelsA": [{"label": "Vapor", "r": 0.836, "z": 1.198}, {"label": "Drop", "r": -0.02, "z": 0.24}, {"label": "z", "r": -0.24, "z": 0.85}],
    "labelsB": [{"label": "Vapor", "r": 0.8, "z": 1.198}, {"label": "Drop", "r": 0.0, "z": 0.105}, {"label": "z", "r": -0.25, "z": 0.845}]
  },
  "resolve": {"scale": {"color": "independent"}, "legend": {"color": "independent"}},
  "spacing": 38,
  "hconcat": [
    {
      "title": {"text": "(a)", "orient": "bottom", "offset": 20, "anchor": "middle"},
      "vconcat": [
        {
          "title": {"text": "t = 0.014", "offset": 8},
          "width": 482,
          "height": 321,
          "resolve": {"axis": {"x": "independent", "y": "independent"}},
          "layer": [
            {
              "data": {"name": "bandsA"},
              "mark": {"type": "area", "clip": true, "interpolate": "monotone"},
              "encoding": {
                "x": {"field": "r", "type": "quantitative", "scale": {"domain": [-1.25, 1.3], "nice": false, "zero": false},
                  "axis": {"orient": "bottom", "offset": 9, "values": [-1, -0.5, 0, 0.5, 1], "format": "~g", "tickSize": -7, "labelPadding": 16, "domain": true, "title": "r", "titlePadding": 4, "titleX": 236, "zindex": 1, "labelFlush": false, "labelOverlap": false}},
                "y": {"field": "z", "type": "quantitative", "stack": null, "scale": {"domain": [0, 1.7], "nice": false, "zero": false},
                  "axis": {"orient": "left", "offset": -236, "values": [0, 0.5, 1, 1.5], "format": "~g", "tickSize": -8, "labelPadding": 13, "domain": false, "title": null, "zindex": 1, "labelFlush": false, "labelOverlap": false}},
                "y2": {"datum": 0},
                "color": {"field": "c", "type": "quantitative",
                  "scale": {"type": "threshold", "domain": [0.1, 0.2, 0.3, 0.4, 0.5, 0.6, 0.7, 0.8, 0.9], "range": ["#1e1e1e", "#2f2f2f", "#454545", "#5d5d5d", "#777777", "#919191", "#ababab", "#c8c8c8", "#e3e3e3", "#ffffff"]},
                  "legend": {"type": "gradient", "orient": "none", "legendX": -28, "legendY": -29, "direction": "vertical", "title": "c", "titleFont": "Liberation Serif", "titleFontSize": 20, "titleFontStyle": "italic", "titleFontWeight": "normal", "titleColor": "#1a1a1a", "titleAnchor": "end", "titlePadding": 4, "gradientLength": 212, "gradientThickness": 28, "gradientStrokeColor": "#222222", "gradientStrokeWidth": 1, "labelFont": "Liberation Serif", "labelFontSize": 20, "labelColor": "#1a1a1a", "labelOffset": 11, "labelOverlap": false, "fillColor": "white", "strokeColor": "#333333", "padding": 8}},
                "detail": {"field": "band"}
              }
            },
            {
              "data": {"name": "arrowsA"},
              "mark": {"type": "rule", "color": "#151515", "strokeWidth": 0.8},
              "encoding": {
                "x": {"field": "r", "type": "quantitative", "scale": {"domain": [-1.25, 1.3], "nice": false, "zero": false},
                  "axis": {"orient": "bottom", "offset": 9, "values": [-1.2, -1.1, -0.9, -0.8, -0.7, -0.6, -0.4, -0.3, -0.2, -0.1, 0.1, 0.2, 0.3, 0.4, 0.6, 0.7, 0.8, 0.9, 1.1, 1.2], "tickSize": -3.5, "labels": false, "domain": false, "title": null, "zindex": 1}},
                "y": {"field": "z", "type": "quantitative", "scale": {"domain": [0, 1.7], "nice": false, "zero": false},
                  "axis": {"orient": "left", "offset": -236, "values": [0.4, 0.6, 0.7, 0.8, 0.9, 1.1, 1.2, 1.3, 1.4, 1.6], "tickSize": -5, "labels": false, "domain": false, "title": null, "zindex": 1}},
                "x2": {"field": "r2"},
                "y2": {"field": "z2"}
              }
            },
            {
              "data": {"name": "zlineA"},
              "mark": {"type": "rule", "color": "#1a1a1a", "strokeWidth": 1.2},
              "encoding": {
                "x": {"datum": 0, "type": "quantitative", "axis": null},
                "y": {"field": "z", "type": "quantitative", "scale": {"domain": [0, 1.7], "nice": false, "zero": false}, "axis": null},
                "y2": {"field": "z2"}
              }
            },
            {
              "data": {"name": "zticks"},
              "transform": [{"filter": "datum.z != 1"}],
              "mark": {"type": "point", "shape": "M-1,-0.55H1V0.55H-1Z", "size": 1024, "filled": true, "fill": "white", "opacity": 1, "strokeWidth": 0},
              "encoding": {
                "x": {"datum": -0.108, "type": "quantitative", "axis": null},
                "y": {"field": "z", "type": "quantitative", "scale": {"domain": [0, 1.7], "nice": false, "zero": false}, "axis": null}
              }
            },
            {
              "data": {"name": "zticks"},
              "transform": [{"filter": "datum.z == 1"}],
              "mark": {"type": "point", "shape": "M-0.75,-1H0.75V1H-0.75Z", "size": 324, "filled": true, "fill": "white", "opacity": 1, "strokeWidth": 0},
              "encoding": {
                "x": {"datum": -0.06, "type": "quantitative", "axis": null},
                "y": {"field": "z", "type": "quantitative", "scale": {"domain": [0, 1.7], "nice": false, "zero": false}, "axis": null}
              }
            },
            {
              "data": {"name": "labelsA"},
              "transform": [{"filter": "datum.label == 'Vapor'"}],
              "mark": {"type": "point", "shape": "M-1,-0.48H1V0.48H-1Z", "size": 10404, "filled": true, "fill": "white", "opacity": 1, "strokeWidth": 0},
              "encoding": {
                "x": {"field": "r", "type": "quantitative", "scale": {"domain": [-1.25, 1.3], "nice": false, "zero": false}, "axis": null},
                "y": {"field": "z", "type": "quantitative", "scale": {"domain": [0, 1.7], "nice": false, "zero": false}, "axis": null}
              }
            },
            {
              "data": {"name": "labelsA"},
              "transform": [{"filter": "datum.label == 'z'"}],
              "mark": {"type": "point", "shape": "M-1,-1H1V1H-1Z", "size": 400, "filled": true, "fill": "white", "opacity": 1, "strokeWidth": 0},
              "encoding": {
                "x": {"field": "r", "type": "quantitative", "scale": {"domain": [-1.25, 1.3], "nice": false, "zero": false}, "axis": null},
                "y": {"field": "z", "type": "quantitative", "scale": {"domain": [0, 1.7], "nice": false, "zero": false}, "axis": null}
              }
            },
            {
              "data": {"name": "labelsA"},
              "transform": [{"filter": "datum.label != 'z'"}],
              "mark": {"type": "text", "font": "Liberation Serif", "fontSize": 20, "color": "#1a1a1a", "align": "center", "baseline": "middle"},
              "encoding": {
                "x": {"field": "r", "type": "quantitative", "scale": {"domain": [-1.25, 1.3], "nice": false, "zero": false}, "axis": null},
                "y": {"field": "z", "type": "quantitative", "scale": {"domain": [0, 1.7], "nice": false, "zero": false}, "axis": null},
                "text": {"field": "label"}
              }
            },
            {
              "data": {"name": "labelsA"},
              "transform": [{"filter": "datum.label == 'z'"}],
              "mark": {"type": "text", "font": "Liberation Serif", "fontSize": 20, "fontStyle": "italic", "color": "#1a1a1a", "align": "center", "baseline": "middle"},
              "encoding": {
                "x": {"field": "r", "type": "quantitative", "scale": {"domain": [-1.25, 1.3], "nice": false, "zero": false}, "axis": null},
                "y": {"field": "z", "type": "quantitative", "scale": {"domain": [0, 1.7], "nice": false, "zero": false}, "axis": null},
                "text": {"field": "label"}
              }
            }
          ]
        }
      ]
    },
    {
      "title": {"text": "(b)", "orient": "bottom", "offset": 20, "anchor": "middle"},
      "vconcat": [
        {
          "title": {"text": "t = 0.219", "offset": 8},
          "width": 482,
          "height": 321,
          "resolve": {"axis": {"x": "independent", "y": "independent"}},
          "layer": [
            {
              "data": {"name": "bandsB"},
              "mark": {"type": "area", "clip": true, "interpolate": "monotone"},
              "encoding": {
                "x": {"field": "r", "type": "quantitative", "scale": {"domain": [-1.25, 1.3], "nice": false, "zero": false},
                  "axis": {"orient": "bottom", "offset": 9, "values": [-1, -0.5, 0, 0.5, 1], "format": "~g", "tickSize": -7, "labelPadding": 16, "domain": true, "title": "r", "titlePadding": 4, "titleX": 236, "zindex": 1, "labelFlush": false, "labelOverlap": false}},
                "y": {"field": "z", "type": "quantitative", "stack": null, "scale": {"domain": [0, 1.7], "nice": false, "zero": false},
                  "axis": {"orient": "left", "offset": -236, "values": [0.5, 1, 1.5], "format": "~g", "tickSize": -8, "labelPadding": 13, "domain": false, "title": null, "zindex": 1, "labelFlush": false, "labelOverlap": false}},
                "y2": {"datum": 0},
                "color": {"field": "c", "type": "quantitative",
                  "scale": {"type": "threshold", "domain": [0.1, 0.2, 0.3, 0.4, 0.5, 0.6, 0.7, 0.8, 0.9], "range": ["#1e1e1e", "#2f2f2f", "#454545", "#5d5d5d", "#777777", "#919191", "#ababab", "#c8c8c8", "#e3e3e3", "#ffffff"]},
                  "legend": {"type": "gradient", "orient": "none", "legendX": -26, "legendY": -29, "direction": "vertical", "title": "c", "titleFont": "Liberation Serif", "titleFontSize": 20, "titleFontStyle": "italic", "titleFontWeight": "normal", "titleColor": "#1a1a1a", "titleAnchor": "end", "titlePadding": 4, "gradientLength": 212, "gradientThickness": 28, "gradientStrokeColor": "#222222", "gradientStrokeWidth": 1, "labelFont": "Liberation Serif", "labelFontSize": 20, "labelColor": "#1a1a1a", "labelOffset": 11, "labelOverlap": false, "fillColor": "white", "strokeColor": "#333333", "padding": 8}},
                "detail": {"field": "band"}
              }
            },
            {
              "data": {"name": "arrowsB"},
              "mark": {"type": "rule", "color": "#151515", "strokeWidth": 0.8},
              "encoding": {
                "x": {"field": "r", "type": "quantitative", "scale": {"domain": [-1.25, 1.3], "nice": false, "zero": false},
                  "axis": {"orient": "bottom", "offset": 9, "values": [-1.2, -1.1, -0.9, -0.8, -0.7, -0.6, -0.4, -0.3, -0.2, -0.1, 0.1, 0.2, 0.3, 0.4, 0.6, 0.7, 0.8, 0.9, 1.1, 1.2], "tickSize": -3.5, "labels": false, "domain": false, "title": null, "zindex": 1}},
                "y": {"field": "z", "type": "quantitative", "scale": {"domain": [0, 1.7], "nice": false, "zero": false},
                  "axis": {"orient": "left", "offset": -236, "values": [0.3, 0.4, 0.6, 0.7, 0.8, 0.9, 1.1, 1.2, 1.3, 1.4, 1.6], "tickSize": -5, "labels": false, "domain": false, "title": null, "zindex": 1}},
                "x2": {"field": "r2"},
                "y2": {"field": "z2"}
              }
            },
            {
              "data": {"name": "zlineB"},
              "mark": {"type": "rule", "color": "#1a1a1a", "strokeWidth": 1.2},
              "encoding": {
                "x": {"datum": 0, "type": "quantitative", "axis": null},
                "y": {"field": "z", "type": "quantitative", "scale": {"domain": [0, 1.7], "nice": false, "zero": false}, "axis": null},
                "y2": {"field": "z2"}
              }
            },
            {
              "data": {"name": "zticks"},
              "transform": [{"filter": "datum.z != 1"}],
              "mark": {"type": "point", "shape": "M-1,-0.55H1V0.55H-1Z", "size": 1024, "filled": true, "fill": "white", "opacity": 1, "strokeWidth": 0},
              "encoding": {
                "x": {"datum": -0.108, "type": "quantitative", "axis": null},
                "y": {"field": "z", "type": "quantitative", "scale": {"domain": [0, 1.7], "nice": false, "zero": false}, "axis": null}
              }
            },
            {
              "data": {"name": "zticks"},
              "transform": [{"filter": "datum.z == 1"}],
              "mark": {"type": "point", "shape": "M-0.75,-1H0.75V1H-0.75Z", "size": 324, "filled": true, "fill": "white", "opacity": 1, "strokeWidth": 0},
              "encoding": {
                "x": {"datum": -0.06, "type": "quantitative", "axis": null},
                "y": {"field": "z", "type": "quantitative", "scale": {"domain": [0, 1.7], "nice": false, "zero": false}, "axis": null}
              }
            },
            {
              "data": {"name": "labelsB"},
              "transform": [{"filter": "datum.label == 'Vapor'"}],
              "mark": {"type": "point", "shape": "M-1,-0.48H1V0.48H-1Z", "size": 10404, "filled": true, "fill": "white", "opacity": 1, "strokeWidth": 0},
              "encoding": {
                "x": {"field": "r", "type": "quantitative", "scale": {"domain": [-1.25, 1.3], "nice": false, "zero": false}, "axis": null},
                "y": {"field": "z", "type": "quantitative", "scale": {"domain": [0, 1.7], "nice": false, "zero": false}, "axis": null}
              }
            },
            {
              "data": {"name": "labelsB"},
              "transform": [{"filter": "datum.label == 'z'"}],
              "mark": {"type": "point", "shape": "M-1,-1H1V1H-1Z", "size": 400, "filled": true, "fill": "white", "opacity": 1, "strokeWidth": 0},
              "encoding": {
                "x": {"field": "r", "type": "quantitative", "scale": {"domain": [-1.25, 1.3], "nice": false, "zero": false}, "axis": null},
                "y": {"field": "z", "type": "quantitative", "scale": {"domain": [0, 1.7], "nice": false, "zero": false}, "axis": null}
              }
            },
            {
              "data": {"name": "labelsB"},
              "transform": [{"filter": "datum.label != 'z'"}],
              "mark": {"type": "text", "font": "Liberation Serif", "fontSize": 20, "color": "#1a1a1a", "align": "center", "baseline": "middle"},
              "encoding": {
                "x": {"field": "r", "type": "quantitative", "scale": {"domain": [-1.25, 1.3], "nice": false, "zero": false}, "axis": null},
                "y": {"field": "z", "type": "quantitative", "scale": {"domain": [0, 1.7], "nice": false, "zero": false}, "axis": null},
                "text": {"field": "label"}
              }
            },
            {
              "data": {"name": "labelsB"},
              "transform": [{"filter": "datum.label == 'z'"}],
              "mark": {"type": "text", "font": "Liberation Serif", "fontSize": 20, "fontStyle": "italic", "color": "#1a1a1a", "align": "center", "baseline": "middle"},
              "encoding": {
                "x": {"field": "r", "type": "quantitative", "scale": {"domain": [-1.25, 1.3], "nice": false, "zero": false}, "axis": null},
                "y": {"field": "z", "type": "quantitative", "scale": {"domain": [0, 1.7], "nice": false, "zero": false}, "axis": null},
                "text": {"field": "label"}
              }
            }
          ]
        }
      ]
    }
  ]
}
